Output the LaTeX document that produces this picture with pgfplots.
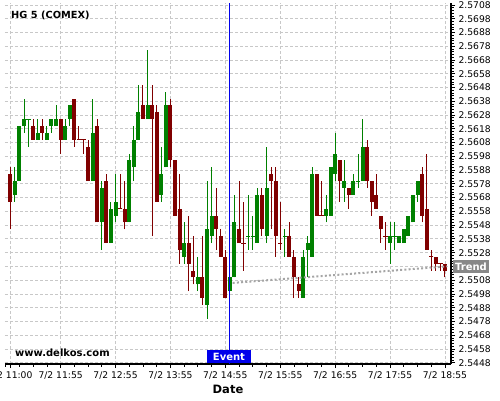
\documentclass[border=0pt]{standalone}
\usepackage{fontspec}
\setmainfont{DejaVu Sans}
\usepackage{pgfplots}
\usepackage{pgfplotstable}
\pgfplotsset{compat=1.18}

\definecolor{cup}{RGB}{0,128,0}
\definecolor{cdn}{RGB}{128,0,0}
\definecolor{gridc}{RGB}{200,200,200}
\definecolor{trendc}{RGB}{165,165,165}
\definecolor{evblue}{RGB}{0,0,235}
\definecolor{trbox}{RGB}{136,136,136}

% 5 minute candles, x = minutes after 11:00
\pgfplotstableread{
x o h l c
5 2.5570 2.5590 2.5565 2.5580
10 2.5580 2.5620 2.5580 2.5620
15 2.5620 2.5640 2.5615 2.5625
30 2.5610 2.5625 2.5610 2.5615
40 2.5610 2.5620 2.5610 2.5615
45 2.5620 2.5625 2.5615 2.5625
50 2.5620 2.5635 2.5620 2.5625
60 2.5610 2.5625 2.5610 2.5620
65 2.5625 2.5635 2.5620 2.5635
90 2.5580 2.5640 2.5580 2.5615
100 2.5550 2.5580 2.5530 2.5575
110 2.5535 2.5565 2.5535 2.5560
115 2.5555 2.5585 2.5550 2.5565
130 2.5550 2.5600 2.5550 2.5595
135 2.5590 2.5620 2.5580 2.5610
140 2.5610 2.5650 2.5610 2.5630
150 2.5625 2.5675 2.5625 2.5635
165 2.5570 2.5605 2.5565 2.5585
170 2.5590 2.5645 2.5590 2.5635
190 2.5525 2.5550 2.5520 2.5535
205 2.5505 2.5525 2.5500 2.5510
215 2.5490 2.5580 2.5480 2.5545
220 2.5540 2.5590 2.5535 2.5555
240 2.5500 2.5510 2.5500 2.5510
245 2.5510 2.5570 2.5510 2.5550
270 2.5535 2.5575 2.5535 2.5570
280 2.5540 2.5605 2.5535 2.5575
320 2.5495 2.5530 2.5495 2.5525
325 2.5530 2.5540 2.5510 2.5535
330 2.5525 2.5590 2.5525 2.5585
345 2.5555 2.5570 2.5550 2.5560
350 2.5555 2.5590 2.5555 2.5590
355 2.5585 2.5615 2.5580 2.5600
365 2.5575 2.5595 2.5565 2.5580
375 2.5570 2.5585 2.5570 2.5580
385 2.5580 2.5625 2.5580 2.5605
415 2.5535 2.5550 2.5520 2.5540
425 2.5535 2.5540 2.5535 2.5540
430 2.5535 2.5545 2.5535 2.5545
435 2.5540 2.5555 2.5540 2.5555
440 2.5550 2.5570 2.5550 2.5570
445 2.5570 2.5580 2.5565 2.5580
}\upc

\pgfplotstableread{
x o h l c
0 2.5585 2.5590 2.5545 2.5565
25 2.5620 2.5625 2.5610 2.5610
35 2.5620 2.5625 2.5610 2.5615
55 2.5625 2.5625 2.5600 2.5610
70 2.5640 2.5640 2.5605 2.5610
85 2.5605 2.5610 2.5580 2.5580
95 2.5620 2.5625 2.5550 2.5550
105 2.5580 2.5585 2.5535 2.5535
125 2.5560 2.5580 2.5545 2.5550
145 2.5635 2.5650 2.5625 2.5625
155 2.5635 2.5650 2.5540 2.5625
160 2.5630 2.5635 2.5565 2.5565
175 2.5635 2.5640 2.5590 2.5595
180 2.5595 2.5595 2.5555 2.5555
185 2.5560 2.5585 2.5520 2.5530
195 2.5535 2.5555 2.5500 2.5520
200 2.5515 2.5540 2.5505 2.5510
210 2.5510 2.5540 2.5490 2.5495
225 2.5555 2.5575 2.5530 2.5545
230 2.5540 2.5545 2.5525 2.5525
235 2.5525 2.5530 2.5495 2.5495
250 2.5545 2.5580 2.5535 2.5535
275 2.5570 2.5575 2.5540 2.5545
285 2.5585 2.5590 2.5545 2.5580
290 2.5580 2.5590 2.5525 2.5540
305 2.5540 2.5550 2.5525 2.5525
310 2.5525 2.5530 2.5495 2.5510
315 2.5505 2.5510 2.5495 2.5500
335 2.5585 2.5585 2.5555 2.5555
360 2.5595 2.5595 2.5565 2.5580
370 2.5575 2.5575 2.5560 2.5570
390 2.5605 2.5610 2.5575 2.5580
395 2.5580 2.5580 2.5555 2.5565
400 2.5570 2.5585 2.5560 2.5560
405 2.5555 2.5555 2.5535 2.5545
450 2.5585 2.5590 2.5550 2.5555
455 2.5560 2.5600 2.5530 2.5530
465 2.5525 2.5525 2.5515 2.5520
475 2.5520 2.5520 2.5510 2.5515
}\dnc

\pgfplotstableread{
x o h l c
20 2.5625 2.5625 2.5605 2.5625
260 2.5540 2.5570 2.5530 2.5540
265 2.5540 2.5555 2.5530 2.5540
300 2.5540 2.5545 2.5525 2.5540
380 2.5580 2.5600 2.5575 2.5580
420 2.5540 2.5550 2.5530 2.5540
}\updoji

\pgfplotstableread{
x o h l c
75 2.5610 2.5620 2.5610 2.5610
80 2.5610 2.5610 2.5600 2.5610
120 2.5560 2.5585 2.5560 2.5560
255 2.5535 2.5565 2.5515 2.5535
295 2.5535 2.5565 2.5530 2.5535
340 2.5555 2.5580 2.5555 2.5555
410 2.5540 2.5550 2.5530 2.5540
460 2.5525 2.5530 2.5515 2.5525
470 2.5520 2.5520 2.5515 2.5520
}\dndoji

\pgfplotsset{
  wick/.style={draw=none, mark=none, forget plot,
    error bars/.cd, y dir=plus, y explicit, error mark=none,
    error bar style={draw=#1, line width=1pt, solid}},
  body/.style={draw=none, mark=none, forget plot,
    error bars/.cd, y dir=plus, y explicit, error mark=none,
    error bar style={draw=#1, line width=4pt, solid}},
}

\begin{document}
\begin{tikzpicture}
\begin{axis}[
  at={(5pt,36pt)}, anchor=south west,
  scale only axis, width=446pt, height=361pt,
  xmin=-5.8, xmax=481.6, ymin=2.544706, ymax=2.570947,
  axis x line*=bottom, axis y line*=right,
  axis line style={line width=1.2pt},
  xtick={0,55,115,175,235,295,355,415,475},
  xticklabels={7/2 11:00,7/2 11:55,7/2 12:55,7/2 13:55,7/2 14:55,7/2 15:55,7/2 16:55,7/2 17:55,7/2 18:55},
  minor xtick={-5,10,...,490},
  ytick={2.5448,2.5458,2.5468,2.5478,2.5488,2.5498,2.5508,2.5518,2.5528,2.5538,2.5548,2.5558,2.5568,2.5578,2.5588,2.5598,2.5608,2.5618,2.5628,2.5638,2.5648,2.5658,2.5668,2.5678,2.5688,2.5698,2.5708},
  yticklabels={2.5448,2.5458,2.5468,2.5478,2.5488,2.5498,2.5508,,2.5528,2.5538,2.5548,2.5558,2.5568,2.5578,2.5588,2.5598,2.5608,2.5618,2.5628,2.5638,2.5648,2.5658,2.5668,2.5678,2.5688,2.5698,2.5708},
  minor y tick num=4,
  scaled y ticks=false,
  grid=major,
  major grid style={gridc, dash pattern=on 3pt off 2pt, line width=0.8pt},
  tick style={black, line width=0.8pt},
  tick align=outside,
  major tick length=4pt, minor tick length=2.5pt,
  ticklabel style={font=\fontsize{9.2}{11}\selectfont},
]
% wicks
\addplot[wick=cup] table[x=x, y=l, y error plus expr=\thisrow{h}-\thisrow{l}] {\upc};
\addplot[wick=cdn] table[x=x, y=l, y error plus expr=\thisrow{h}-\thisrow{l}] {\dnc};
\addplot[wick=cup] table[x=x, y=l, y error plus expr=\thisrow{h}-\thisrow{l}] {\updoji};
\addplot[wick=cdn] table[x=x, y=l, y error plus expr=\thisrow{h}-\thisrow{l}] {\dndoji};
% bodies
\addplot[body=cup] table[x=x, y=o, y error plus expr=\thisrow{c}-\thisrow{o}] {\upc};
\addplot[body=cdn] table[x=x, y=c, y error plus expr=\thisrow{o}-\thisrow{c}] {\dnc};
% doji
\addplot[only marks, mark=-, mark size=2.2pt, mark options={cup, line width=1pt}] table[x=x, y=o] {\updoji};
\addplot[only marks, mark=-, mark size=2.2pt, mark options={cdn, line width=1pt}] table[x=x, y=o] {\dndoji};
% trend and event
\addplot[trendc, line width=2pt, dash pattern=on 2pt off 2.2pt] coordinates {(243,2.5506) (477,2.5518)};
\addplot[evblue, line width=1pt] coordinates {(240,2.544706) (240,2.570947)};
\end{axis}

\node[fill=evblue, text=white, font=\bfseries\fontsize{10}{12}\selectfont, inner xsep=5.5pt, inner ysep=0pt, minimum height=13pt, text depth=0pt] at (229pt,43.5pt) {Event};
\node[fill=trbox, text=white, font=\bfseries\fontsize{10}{12}\selectfont, inner xsep=2.5pt, inner ysep=0pt, minimum height=13.5pt, text depth=0pt] at (471pt,133.5pt) {Trend};
\node[anchor=west, inner sep=0pt, font=\bfseries\fontsize{9.8}{12}\selectfont] at (11pt,384.5pt) {HG 5 (COMEX)};
\node[anchor=west, inner sep=0pt, font=\bfseries\fontsize{10}{12}\selectfont] at (15pt,47pt) {www.delkos.com};
\node[inner sep=0pt, font=\bfseries\fontsize{11.5}{13}\selectfont] at (228pt,11pt) {Date};

\pgfresetboundingbox
\path[use as bounding box] (0,0) rectangle (500pt,400pt);
\end{tikzpicture}
\end{document}
